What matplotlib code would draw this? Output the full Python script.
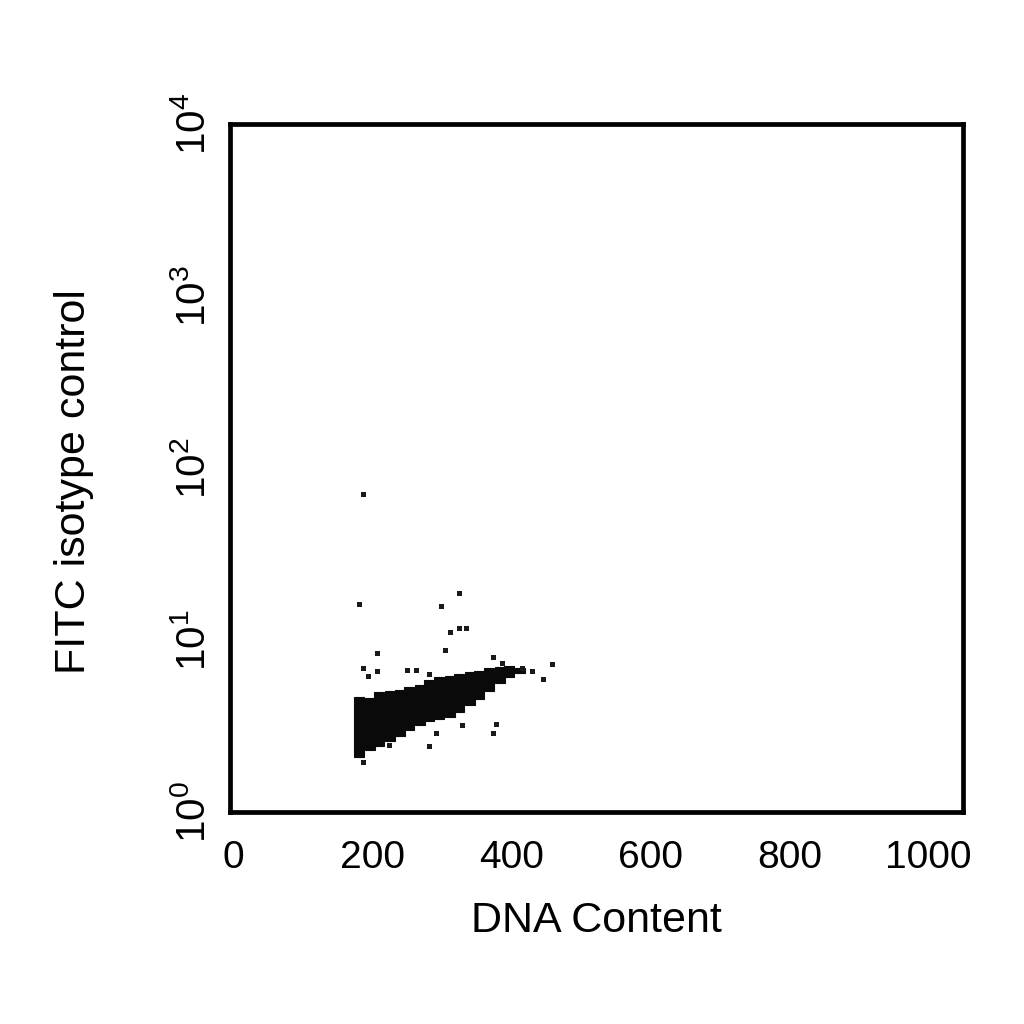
import matplotlib
matplotlib.use("Agg")
import matplotlib.pyplot as plt

plt.rcParams["font.family"] = ["Liberation Sans", "DejaVu Sans"]
plt.rcParams["mathtext.default"] = "regular"

# main population, read as columns: DNA content bin, lower and upper FITC level
bin_x = [181, 196, 210, 225, 239, 253, 268, 282, 296, 311, 325, 340, 354, 368, 383, 397, 412]
bin_low = [2.09, 2.29, 2.42, 2.59, 2.77, 3.00, 3.20, 3.38, 3.47, 3.57, 3.81, 4.19, 4.54, 5.05, 5.62, 6.09, 6.43]
bin_high = [4.66, 4.60, 4.99, 5.05, 5.12, 5.33, 5.47, 5.85, 6.09, 6.18, 6.34, 6.52, 6.60, 6.87, 6.97, 7.06, 6.87]
bin_width = 14.4

# scattered single events
out_x = [187, 181, 324, 299, 312, 324, 335, 207, 305, 187, 194, 207, 250, 263, 281,
         373, 386, 416, 430, 459, 446, 329, 378, 373, 281, 187, 292, 224]
out_y = [70.6, 16.2, 18.8, 15.8, 11.1, 11.7, 11.7, 8.4, 8.75, 6.88, 6.18, 6.60, 6.70, 6.70, 6.34,
         7.96, 7.35, 6.88, 6.60, 7.25, 5.94, 3.20, 3.25, 2.88, 2.42, 1.95, 2.88, 2.45]

fig = plt.figure(figsize=(10.24, 10.24), dpi=100)
ax = fig.add_axes([0.2246, 0.207, 0.7158, 0.672])

heights = [h - l for h, l in zip(bin_high, bin_low)]
ax.bar(bin_x, heights, bottom=bin_low, width=bin_width, color="#0a0a0a",
       edgecolor="#0a0a0a", linewidth=0.8)
ax.plot(out_x, out_y, "s", color="#1a1a1a", markersize=3.6, markeredgewidth=0)

ax.set_yscale("log")
ax.set_xlim(-5, 1050)
ax.set_ylim(1, 10000)

ax.set_xticks([0, 200, 400, 600, 800, 1000])
ax.set_xticklabels(["0", "200", "400", "600", "800", "1000"], fontsize=28)
ax.set_yticks([1, 10, 100, 1000, 10000])
ax.set_yticklabels(["$10^0$", "$10^1$", "$10^2$", "$10^3$", "$10^4$"], fontsize=29,
                   rotation=90, va="center")
ax.minorticks_off()
ax.tick_params(axis="both", length=0)
ax.tick_params(axis="x", pad=20)
ax.tick_params(axis="y", pad=12)

for s in ax.spines.values():
    s.set_linewidth(3.4)

ax.set_xlabel("DNA Content", fontsize=31, labelpad=18)
ax.set_ylabel("FITC isotype control", fontsize=31)
ax.yaxis.set_label_coords(-0.185, 0.48)

fig.savefig("out.png", dpi=100)
